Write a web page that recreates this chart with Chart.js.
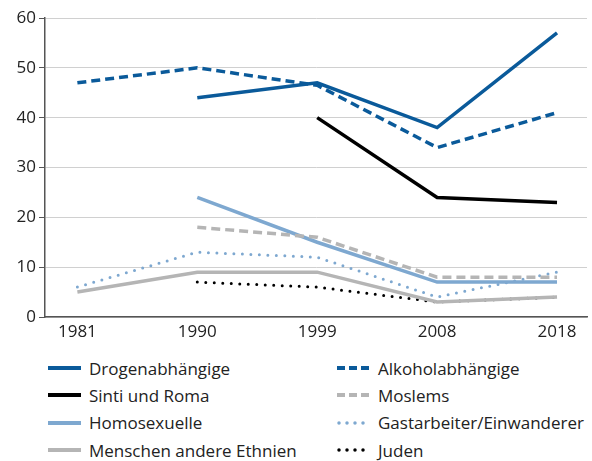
<!DOCTYPE html>
<html>
<head>
<meta charset="utf-8">
<script src="https://cdn.jsdelivr.net/npm/chart.js@4/dist/chart.umd.min.js"></script>
<style>
  html, body { margin: 0; padding: 0; background: #fff; }
  #wrap { position: relative; width: 592px; height: 461px; font-family: 'Open Sans', sans-serif; }
  #box { position: absolute; left: 0; top: 0; width: 592px; height: 345px; }
  #legend { position: absolute; left: 0; top: 354px; width: 592px; }
  .lg-item { position: absolute; height: 28px; display: flex; align-items: center; font-size: 17px; color: #222; white-space: nowrap; }
  .lg-item svg { margin-right: 8px; }
</style>
</head>
<body>
<div id="wrap">
  <div id="box"><canvas id="c"></canvas></div>
  <div id="legend"></div>
</div>
<script>
'use strict';

var years = ['1981', '1990', '1999', '2008', '2018'];
var yTicks = [0, 10, 20, 30, 40, 50, 60];

var drogen      = [null, 44, 47, 38, 57];
var alkohol     = [47, 50, 46.5, 34, 41];
var sinti       = [null, null, 40, 24, 23];
var moslems     = [null, 18, 16, 8, 8];
var homo        = [null, 24, 15, 7, 7];
var gastarb     = [6, 13, 12, 4, 9];
var ethnien     = [5, 9, 9, 3, 4];
var juden       = [null, 7, 6, 3, 4];

var DARK = '#0a5a9a', LIGHT = '#7ea8d0', GREY = '#b5b5b5', BLACK = '#000';

function pts(arr) {
  return arr.map(function(v, i) { return { x: i, y: v }; });
}

function ds(label, data, color, style) {
  var d = {
    label: label, data: pts(data), borderColor: color, backgroundColor: color,
    borderWidth: 3.5, pointRadius: 0, tension: 0, spanGaps: false, fill: false,
    borderCapStyle: 'butt', borderJoinStyle: 'miter'
  };
  if (style === 'dash') { d.borderDash = [9, 5]; }
  if (style === 'dot') { d.borderDash = [0, 8.5]; d.borderCapStyle = 'round'; d.borderWidth = 3; }
  d._style = style || 'solid';
  return d;
}

var datasets = [
  ds('Drogenabhängige', drogen, DARK),
  ds('Alkoholabhängige', alkohol, DARK, 'dash'),
  ds('Sinti und Roma', sinti, BLACK),
  ds('Moslems', moslems, GREY, 'dash'),
  ds('Homosexuelle', homo, LIGHT),
  ds('Gastarbeiter/Einwanderer', gastarb, LIGHT, 'dot'),
  ds('Menschen andere Ethnien', ethnien, GREY),
  ds('Juden', juden, BLACK, 'dot')
];

var chart = new Chart(document.getElementById('c'), {
  type: 'line',
  data: { datasets: datasets },
  options: {
    responsive: true,
    maintainAspectRatio: false,
    animation: false,
    layout: { padding: { top: 18, right: 5, left: 0, bottom: 0 } },
    plugins: { legend: { display: false }, tooltip: { enabled: false } },
    scales: {
      x: {
        type: 'linear', min: -0.27, max: 4.25,
        afterFit: function(s) { s.height = 28; },
        afterBuildTicks: function(s) { s.ticks = years.map(function(y, i) { return { value: i }; }); },
        ticks: {
          callback: function(v) { return years[v]; },
          font: { family: 'Open Sans', size: 17 }, color: '#222', padding: 5
        },
        grid: { display: false, drawTicks: false },
        border: { display: true, color: '#555', width: 1.5 }
      },
      y: {
        min: 0, max: 60,
        afterFit: function(s) { s.width = 45; },
        afterBuildTicks: function(s) { s.ticks = yTicks.map(function(v) { return { value: v }; }); },
        ticks: {
          font: { family: 'Open Sans', size: 17 }, color: '#222', padding: 3
        },
        grid: { color: '#d0d0d0', lineWidth: 1, tickLength: 6, tickColor: '#555' },
        border: { display: true, color: '#555', width: 1.5 }
      }
    }
  }
});

// two-column legend built from the datasets
var legend = document.getElementById('legend');
var cols = [48, 337];
chart.data.datasets.forEach(function(d, i) {
  var col = i % 2, row = Math.floor(i / 2);
  var dash = '';
  var cap = 'butt';
  var w = d.borderWidth + 0.5;
  var x1 = 0;
  if (d._style === 'dash') { dash = 'stroke-dasharray="8 4"'; }
  if (d._style === 'dot') { dash = 'stroke-dasharray="0 8"'; cap = 'round'; x1 = 2; }
  var svg = '<svg width="33" height="6"><line x1="' + x1 + '" y1="3" x2="33" y2="3" stroke="' +
    d.borderColor + '" stroke-width="' + w + '" stroke-linecap="' + cap + '" ' + dash + '/></svg>';
  var el = document.createElement('div');
  el.className = 'lg-item';
  el.style.left = cols[col] + 'px';
  el.style.top = (row * 27.4) + 'px';
  el.innerHTML = svg + '<span>' + d.label + '</span>';
  legend.appendChild(el);
});
</script>
</body>
</html>
